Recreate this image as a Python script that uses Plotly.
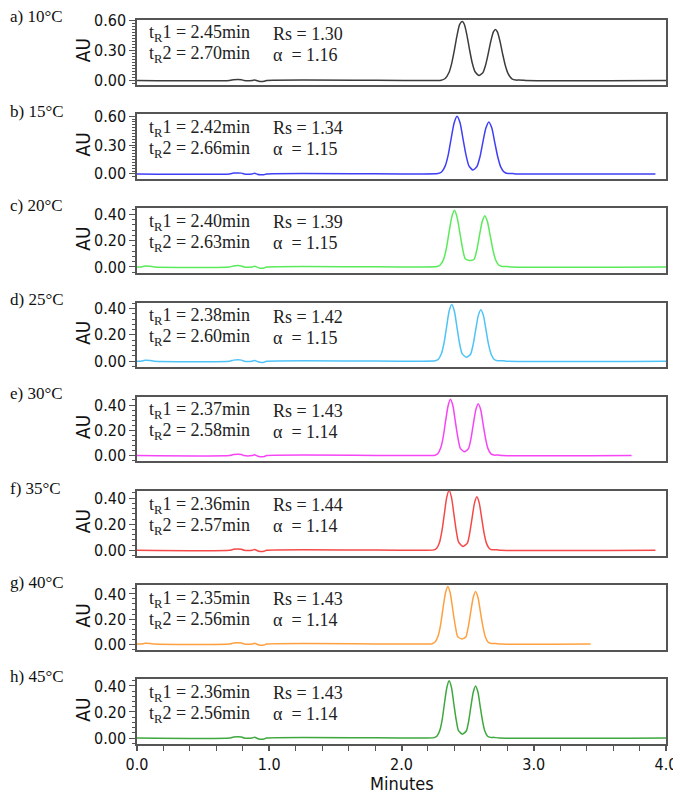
import plotly.graph_objects as go

# ---------------- data ----------------
panel_labels = ["a) 10°C", "b) 15°C", "c) 20°C", "d) 25°C",
                "e) 30°C", "f) 35°C", "g) 40°C", "h) 45°C"]
tr1_vals = ["2.45", "2.42", "2.40", "2.38", "2.37", "2.36", "2.35", "2.36"]
tr2_vals = ["2.70", "2.66", "2.63", "2.60", "2.58", "2.57", "2.56", "2.56"]
rs_vals = ["1.30", "1.34", "1.39", "1.42", "1.43", "1.44", "1.43", "1.43"]
alpha_vals = ["1.16", "1.15", "1.15", "1.15", "1.14", "1.14", "1.14", "1.14"]
line_colors = ["#3c3c3c", "#3f3ff5", "#5aea5a", "#4fc3f7",
               "#f545f5", "#f54848", "#ffa040", "#3ea83e"]

# baseline noise (early part of the run)
base_t = [0.00, 0.70, 0.73, 0.79, 0.81, 0.87, 0.89, 0.91, 0.93, 0.96, 0.98, 2.10]
base_au = [0.0, 0.0, 0.008, 0.008, 0.0, 0.0, 0.006, -0.003, -0.009, -0.008, 0.0, 0.0]
early_t = [0.00, 0.03, 0.06, 0.10, 0.13, 0.70, 0.73, 0.79, 0.81, 0.87, 0.89, 0.91, 0.93, 0.96, 0.98, 2.10]
early_au = [0.0, 0.0, 0.007, 0.005, 0.0, 0.0, 0.008, 0.008, 0.0, 0.0, 0.006, -0.003, -0.009, -0.008, 0.0, 0.0]

# peak regions
peak_t_a = [2.30, 2.33, 2.36, 2.38, 2.40, 2.42, 2.44, 2.46, 2.475, 2.495, 2.515, 2.535, 2.555, 2.585,
            2.615, 2.635, 2.655, 2.675, 2.695, 2.71, 2.725, 2.745, 2.765, 2.785, 2.805, 2.835, 2.865, 2.885, 2.92, 2.94, 4.00]
peak_au_a = [0.003, 0.020, 0.083, 0.174, 0.305, 0.452, 0.562, 0.590, 0.562, 0.452, 0.305, 0.175, 0.090, 0.050,
             0.078, 0.150, 0.264, 0.391, 0.486, 0.510, 0.486, 0.391, 0.264, 0.150, 0.072, 0.017, 0.004, 0.004, 0.003, 0.0, 0.0]

peak_t_b = [2.276, 2.303, 2.33, 2.353, 2.375, 2.398, 2.42, 2.443, 2.465, 2.488, 2.51, 2.54,
            2.57, 2.593, 2.615, 2.638, 2.66, 2.683, 2.705, 2.728, 2.75, 2.777, 2.804, 2.84, 2.87, 3.92]
peak_au_b = [0.004, 0.020, 0.081, 0.195, 0.364, 0.529, 0.600, 0.529, 0.364, 0.195, 0.083, 0.040,
             0.075, 0.175, 0.328, 0.476, 0.540, 0.476, 0.328, 0.175, 0.073, 0.018, 0.004, 0.004, 0.0, 0.0]

peak_t_c = [2.269, 2.293, 2.318, 2.339, 2.359, 2.38, 2.40, 2.42, 2.441, 2.462, 2.482, 2.515,
            2.548, 2.569, 2.589, 2.61, 2.63, 2.65, 2.671, 2.692, 2.712, 2.737, 2.761, 2.80, 2.83, 4.00]
peak_au_c = [0.003, 0.015, 0.058, 0.140, 0.261, 0.379, 0.430, 0.379, 0.261, 0.140, 0.062, 0.050,
             0.057, 0.127, 0.237, 0.344, 0.390, 0.344, 0.237, 0.127, 0.053, 0.013, 0.004, 0.004, 0.0, 0.0]

peak_t_d = [2.255, 2.279, 2.302, 2.322, 2.341, 2.36, 2.38, 2.40, 2.419, 2.438, 2.458, 2.49,
            2.522, 2.542, 2.561, 2.58, 2.60, 2.62, 2.639, 2.658, 2.678, 2.701, 2.725, 2.76, 2.79, 4.00]
peak_au_d = [0.003, 0.015, 0.058, 0.140, 0.261, 0.379, 0.430, 0.379, 0.261, 0.140, 0.058, 0.030,
             0.053, 0.127, 0.237, 0.344, 0.390, 0.344, 0.237, 0.127, 0.053, 0.013, 0.004, 0.004, 0.0, 0.0]

peak_t_e = [2.252, 2.274, 2.296, 2.315, 2.333, 2.352, 2.37, 2.389, 2.407, 2.426, 2.444, 2.475,
            2.506, 2.525, 2.543, 2.562, 2.58, 2.599, 2.617, 2.636, 2.654, 2.676, 2.698, 2.73, 2.76, 3.74]
peak_au_e = [0.003, 0.015, 0.060, 0.145, 0.270, 0.392, 0.445, 0.392, 0.270, 0.145, 0.060, 0.030,
             0.055, 0.133, 0.249, 0.362, 0.410, 0.362, 0.249, 0.133, 0.055, 0.014, 0.004, 0.004, 0.0, 0.0]

peak_t_f = [2.245, 2.266, 2.288, 2.306, 2.324, 2.342, 2.36, 2.378, 2.396, 2.414, 2.432, 2.465,
            2.498, 2.516, 2.534, 2.552, 2.57, 2.588, 2.606, 2.624, 2.642, 2.664, 2.685, 2.72, 2.75, 3.92]
peak_au_f = [0.003, 0.016, 0.062, 0.150, 0.279, 0.406, 0.460, 0.406, 0.279, 0.150, 0.062, 0.030,
             0.055, 0.133, 0.249, 0.362, 0.410, 0.362, 0.249, 0.133, 0.055, 0.014, 0.004, 0.004, 0.0, 0.0]

peak_t_g = [2.232, 2.254, 2.276, 2.295, 2.313, 2.332, 2.35, 2.369, 2.387, 2.406, 2.424, 2.455,
            2.486, 2.505, 2.523, 2.542, 2.56, 2.579, 2.597, 2.616, 2.634, 2.656, 2.678, 2.71, 2.75, 3.43]
peak_au_g = [0.003, 0.016, 0.062, 0.150, 0.279, 0.406, 0.460, 0.406, 0.279, 0.150, 0.062, 0.040,
             0.057, 0.137, 0.255, 0.370, 0.420, 0.370, 0.255, 0.137, 0.057, 0.014, 0.005, 0.005, 0.0, 0.0]

peak_t_h = [2.248, 2.269, 2.29, 2.308, 2.325, 2.343, 2.36, 2.378, 2.395, 2.413, 2.43, 2.46,
            2.49, 2.508, 2.525, 2.543, 2.56, 2.578, 2.595, 2.613, 2.63, 2.651, 2.672, 2.70, 2.74, 4.00]
peak_au_h = [0.003, 0.015, 0.059, 0.143, 0.267, 0.388, 0.440, 0.388, 0.267, 0.143, 0.059, 0.030,
             0.054, 0.130, 0.243, 0.353, 0.400, 0.353, 0.243, 0.130, 0.054, 0.014, 0.005, 0.005, 0.0, 0.0]

y_tickvals_big = [0.0, 0.30, 0.60]
y_tickvals_small = [0.0, 0.20, 0.40]
x_tickvals = [0.0, 1.0, 2.0, 3.0, 4.0]

# ---------------- assemble ----------------
traces_t = [base_t + peak_t_a, base_t + peak_t_b, early_t + peak_t_c, early_t + peak_t_d,
            base_t + peak_t_e, base_t + peak_t_f, early_t + peak_t_g, base_t + peak_t_h]
traces_au = [base_au + peak_au_a, base_au + peak_au_b, early_au + peak_au_c, early_au + peak_au_d,
             base_au + peak_au_e, base_au + peak_au_f, early_au + peak_au_g, base_au + peak_au_h]
y_ranges = [[-0.04, 0.605], [-0.05, 0.62], [-0.045, 0.445], [-0.045, 0.445],
            [-0.045, 0.465], [-0.04, 0.455], [-0.045, 0.47], [-0.045, 0.45]]

# page body has an 8px margin (top/left): the figure fills the rest of the window
OFF = 8
W, H = 681 - OFF, 793 - OFF
x0_px, x1_px = 137, 666
top0, step, ph = 20, 94.2, 64.5


def px(x):
    return (x - OFF) / W


def py(y):
    return 1 - (y - OFF) / H


SERIF = "Liberation Serif, Times New Roman, serif"
SANS = "DejaVu Sans Condensed, Liberation Sans Narrow, Arial Narrow, Liberation Sans, Arial, sans-serif"
AXC = "#555555"

fig = go.Figure()
layout = dict(width=W, height=H, margin=dict(l=0, r=0, t=0, b=0, autoexpand=False),
              paper_bgcolor="white", plot_bgcolor="white", showlegend=False)
annotations = []

for i in range(8):
    n = "" if i == 0 else str(i + 1)
    top = top0 + step * i
    bot = top + ph
    ydom = [py(bot), py(top)]
    xdom = [px(x0_px), px(x1_px)]
    fig.add_trace(go.Scatter(x=traces_t[i], y=traces_au[i], mode="lines",
                             line=dict(color=line_colors[i], width=1.5, shape="spline", smoothing=0.6),
                             xaxis="x" + n, yaxis="y" + n, hoverinfo="skip"))
    last = (i == 7)
    layout["xaxis" + n] = dict(
        domain=xdom, range=[0, 4.0], anchor="y" + n, automargin=False,
        showline=True, mirror=True, linecolor=AXC, linewidth=1.5,
        showgrid=False, zeroline=False,
        tickvals=x_tickvals if last else [], ticktext=[f"{v:.1f}" for v in x_tickvals] if last else [],
        ticks="outside" if last else "", ticklen=5, tickwidth=1.5, tickcolor=AXC,
        minor=dict(dtick=0.2, ticks="outside", ticklen=5, tickwidth=1.2, tickcolor=AXC) if last else dict(ticks=""),
        showticklabels=last,
        tickfont=dict(family=SANS, size=16, color="#111111"),
        fixedrange=True,
    )
    tv = y_tickvals_big if i < 2 else y_tickvals_small
    layout["yaxis" + n] = dict(
        domain=ydom, range=y_ranges[i], anchor="x" + n, automargin=False,
        showline=True, mirror=True, linecolor=AXC, linewidth=1.5,
        showgrid=False, zeroline=False,
        tickvals=tv, ticktext=[f"{v:.2f}" for v in tv],
        ticks="outside", ticklen=6, tickwidth=1.2, tickcolor=AXC,
        minor=dict(dtick=0.03 if i < 2 else 0.04, ticks="outside", ticklen=3, tickwidth=1, tickcolor=AXC),
        tickfont=dict(family=SANS, size=16, color="#111111"),
        fixedrange=True,
    )
    # panel label
    annotations.append(dict(text=panel_labels[i], x=px(OFF), y=py(top - 3), xref="paper", yref="paper",
                            xanchor="left", yanchor="middle", showarrow=False,
                            font=dict(family=SERIF, size=17, color="#111111")))
    # AU title
    annotations.append(dict(text="AU", x=px(83), y=py(top + ph / 2 - 2), xref="paper", yref="paper",
                            xanchor="center", yanchor="middle", textangle=-90, showarrow=False,
                            font=dict(family=SANS, size=19, color="#111111")))
    # retention / resolution text
    annotations.append(dict(text=f"t<sub>R</sub>1 = {tr1_vals[i]}min", x=px(147), y=py(top + 14),
                            xref="paper", yref="paper", xanchor="left", yanchor="middle", showarrow=False,
                            font=dict(family=SERIF, size=18, color="#222222")))
    annotations.append(dict(text=f"t<sub>R</sub>2 = {tr2_vals[i]}min", x=px(147), y=py(top + 35),
                            xref="paper", yref="paper", xanchor="left", yanchor="middle", showarrow=False,
                            font=dict(family=SERIF, size=18, color="#222222")))
    annotations.append(dict(text=f"Rs = {rs_vals[i]}", x=px(271), y=py(top + 14),
                            xref="paper", yref="paper", xanchor="left", yanchor="middle", showarrow=False,
                            font=dict(family=SERIF, size=18, color="#222222")))
    annotations.append(dict(text=f"α\u00a0\u00a0= {alpha_vals[i]}", x=px(271), y=py(top + 35),
                            xref="paper", yref="paper", xanchor="left", yanchor="middle", showarrow=False,
                            font=dict(family=SERIF, size=18, color="#222222")))

annotations.append(dict(text="Minutes", x=px((x0_px + x1_px) / 2), y=py(783), xref="paper", yref="paper",
                        xanchor="center", yanchor="middle", showarrow=False,
                        font=dict(family=SANS, size=18, color="#111111")))
layout["annotations"] = annotations
fig.update_layout(**layout)
fig.write_html("out.html")
